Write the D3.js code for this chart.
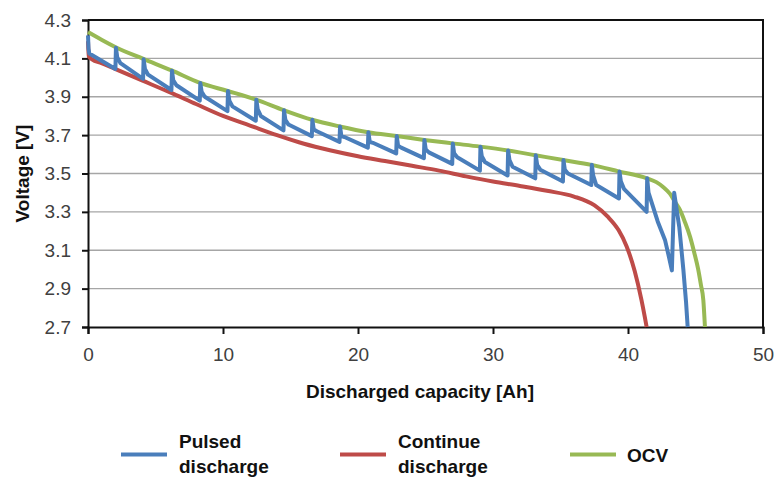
<!DOCTYPE html>
<html>
<head>
<meta charset="utf-8">
<script src="https://cdn.jsdelivr.net/npm/d3@7"></script>
<style>
  html, body { margin: 0; padding: 0; background: #fff; }
  svg { display: block; }
  text { font-family: "Liberation Sans", Arial, sans-serif; }
</style>
</head>
<body>
<svg id="chart" width="776" height="479"></svg>
<script>
// Axis ticks
const xTicks = [0, 10, 20, 30, 40, 50];
const yTicks = [2.7, 2.9, 3.1, 3.3, 3.5, 3.7, 3.9, 4.1, 4.3];

// OCV curve [Ah], [V]
const ocvAh = [0, 1.0, 2.05, 4.1, 6.2, 8.3, 10.35, 12.45, 14.5, 16.6, 18.65, 20.75, 22.85, 24.9, 27.0, 29.05, 31.1, 33.15, 35.2, 37.3, 39.35, 41.4, 42.1, 42.6, 43.1, 43.5, 43.85, 44.2, 44.6, 44.9, 45.2, 45.4, 45.58, 45.7];
const ocvV  = [4.237, 4.197, 4.158, 4.097, 4.037, 3.972, 3.93, 3.885, 3.83, 3.78, 3.745, 3.715, 3.695, 3.675, 3.657, 3.64, 3.62, 3.595, 3.57, 3.545, 3.51, 3.475, 3.455, 3.43, 3.395, 3.35, 3.31, 3.25, 3.17, 3.09, 3.0, 2.92, 2.84, 2.70];

// Continuous discharge curve [Ah], [V]
const contAh = [0, 0.06, 0.3, 1, 2, 4, 6, 8, 10, 12, 14, 16, 18, 20, 22, 24, 26, 28, 30, 32, 34, 36, 37.5, 38.5, 39.3, 39.9, 40.5, 41.0, 41.25, 41.38];
const contV  = [4.19, 4.11, 4.095, 4.075, 4.045, 3.985, 3.925, 3.862, 3.80, 3.75, 3.70, 3.655, 3.62, 3.59, 3.565, 3.54, 3.515, 3.485, 3.458, 3.435, 3.41, 3.38, 3.335, 3.275, 3.205, 3.12, 2.99, 2.84, 2.75, 2.70];

// Pulsed discharge: rest points and the voltage around each one
const pulseAh     = [2.05, 4.1, 6.2, 8.3, 10.35, 12.45, 14.5, 16.6, 18.65, 20.75, 22.85, 24.9, 27.0, 29.05, 31.1, 33.15, 35.2, 37.3, 39.35, 41.4];
const pulseBottom = [4.045, 3.993, 3.935, 3.88, 3.825, 3.775, 3.725, 3.695, 3.665, 3.635, 3.605, 3.58, 3.55, 3.515, 3.49, 3.475, 3.458, 3.44, 3.37, 3.30];
const pulseTop    = [4.155, 4.095, 4.035, 3.972, 3.93, 3.885, 3.83, 3.78, 3.745, 3.715, 3.695, 3.675, 3.657, 3.64, 3.62, 3.595, 3.57, 3.545, 3.51, 3.475];
const pulseMid    = [4.105, 4.045, 3.985, 3.925, 3.88, 3.835, 3.78, 3.73, 3.695, 3.665, 3.645, 3.625, 3.605, 3.59, 3.57, 3.545, 3.52, 3.49, 3.46, 3.40];
const pulseKnee   = [4.075, 4.015, 3.96, 3.90, 3.85, 3.80, 3.755, 3.72, 3.69, 3.66, 3.635, 3.61, 3.585, 3.56, 3.535, 3.52, 3.50, 3.44, 3.42, 3.35];
// start of the pulsed record and its final drop
const pulseHead = [[0, 4.22], [0.04, 4.15], [0.1, 4.125]];
const pulseTail = [[42.2, 3.25], [42.74, 3.154], [43.05, 3.06], [43.25, 2.995], [43.42, 3.40], [43.8, 3.22], [44.1, 3.0], [44.3, 2.83], [44.42, 2.70]];

const seriesNames = ["Pulsed\ndischarge", "Continue\ndischarge", "OCV"];
const seriesColors = ["#4a7ebb", "#be4b48", "#98b954"];

const svg = d3.select("#chart");
svg.append("rect").attr("width", 776).attr("height", 479).attr("fill", "#fff");

const x = d3.scaleLinear().domain([0, 50]).range([88, 763]);
const y = d3.scaleLinear().domain([2.7, 4.3]).range([327, 20]);

// grid
svg.append("g").selectAll("line").data(yTicks.slice(1, -1)).join("line")
  .attr("x1", x(0)).attr("x2", x(50))
  .attr("y1", d => y(d)).attr("y2", d => y(d))
  .attr("stroke", "#a6a6a6").attr("stroke-width", 1.4);

// frame: top and right edges
svg.append("path")
  .attr("d", `M${x(0)},${y(4.3)}H${x(50)}V${y(2.7)}`)
  .attr("fill", "none").attr("stroke", "#111").attr("stroke-width", 2);

// axes
const xAxis = svg.append("g").attr("transform", `translate(0,${y(2.7)})`)
  .call(d3.axisBottom(x).tickValues(xTicks).tickSize(7).tickPadding(10).tickFormat(d3.format("d")));
const yAxis = svg.append("g").attr("transform", `translate(${x(0)},0)`)
  .call(d3.axisLeft(y).tickValues(yTicks).tickSize(6).tickPadding(10).tickFormat(d3.format(".1f")));
[xAxis, yAxis].forEach(g => {
  g.select(".domain").attr("stroke", "#111").attr("stroke-width", 2);
  g.selectAll(".tick line").attr("stroke", "#111").attr("stroke-width", 2);
  g.selectAll(".tick text").attr("fill", "#404040").style("font-size", "19px")
    .style("font-family", '"Liberation Sans", Arial, sans-serif');
});
xAxis.selectAll(".tick text").attr("dy", "0.9em");
yAxis.selectAll(".tick text").attr("dx", "-1");

// series
const ocvPts = ocvAh.map((a, i) => [a, ocvV[i]]);
const contPts = contAh.map((a, i) => [a, contV[i]]);
const pulsePts = [...pulseHead];
pulseAh.forEach((a, i) => {
  pulsePts.push([a - 0.02, pulseBottom[i]]);
  pulsePts.push([a + 0.02, pulseTop[i]]);
  pulsePts.push([a + 0.12, pulseMid[i]]);
  pulsePts.push([a + 0.35, pulseKnee[i]]);
});
pulsePts.push(...pulseTail);

const lineSmooth = d3.line().x(d => x(d[0])).y(d => y(d[1])).curve(d3.curveMonotoneX);
const lineSharp = d3.line().x(d => x(d[0])).y(d => y(d[1])).curve(d3.curveLinear);

const plot = svg.append("g");
plot.append("path").attr("d", lineSmooth(contPts))
  .attr("fill", "none").attr("stroke", seriesColors[1]).attr("stroke-width", 4)
  .attr("stroke-linejoin", "round");
plot.append("path").attr("d", lineSmooth(ocvPts))
  .attr("fill", "none").attr("stroke", seriesColors[2]).attr("stroke-width", 4)
  .attr("stroke-linejoin", "round");
plot.append("path").attr("d", lineSharp(pulsePts))
  .attr("fill", "none").attr("stroke", seriesColors[0]).attr("stroke-width", 4)
  .attr("stroke-linejoin", "round");

// axis titles
svg.append("text").attr("x", 420).attr("y", 398).attr("text-anchor", "middle")
  .style("font-size", "19px").style("font-weight", "bold").attr("fill", "#111")
  .text("Discharged capacity [Ah]");
svg.append("text").attr("transform", `translate(29,${(y(2.7) + y(4.3)) / 2}) rotate(-90)`)
  .attr("text-anchor", "middle")
  .style("font-size", "19px").style("font-weight", "bold").attr("fill", "#111")
  .text("Voltage [V]");

// legend
const legendX = [121, 340, 570];
const legend = svg.append("g");
seriesNames.forEach((name, i) => {
  legend.append("line")
    .attr("x1", legendX[i]).attr("x2", legendX[i] + 46)
    .attr("y1", 454.5).attr("y2", 454.5)
    .attr("stroke", seriesColors[i]).attr("stroke-width", 4.2);
  const lines = name.split("\n");
  const tx = legendX[i] + (i === 2 ? 57 : 58);
  const t = legend.append("text").attr("x", tx)
    .attr("y", lines.length > 1 ? 448 : 462)
    .style("font-size", "19px").style("font-weight", "bold").attr("fill", "#111");
  lines.forEach((l, j) => {
    t.append("tspan").attr("x", tx).attr("dy", j === 0 ? 0 : 25).text(l);
  });
});
</script>
</body>
</html>
